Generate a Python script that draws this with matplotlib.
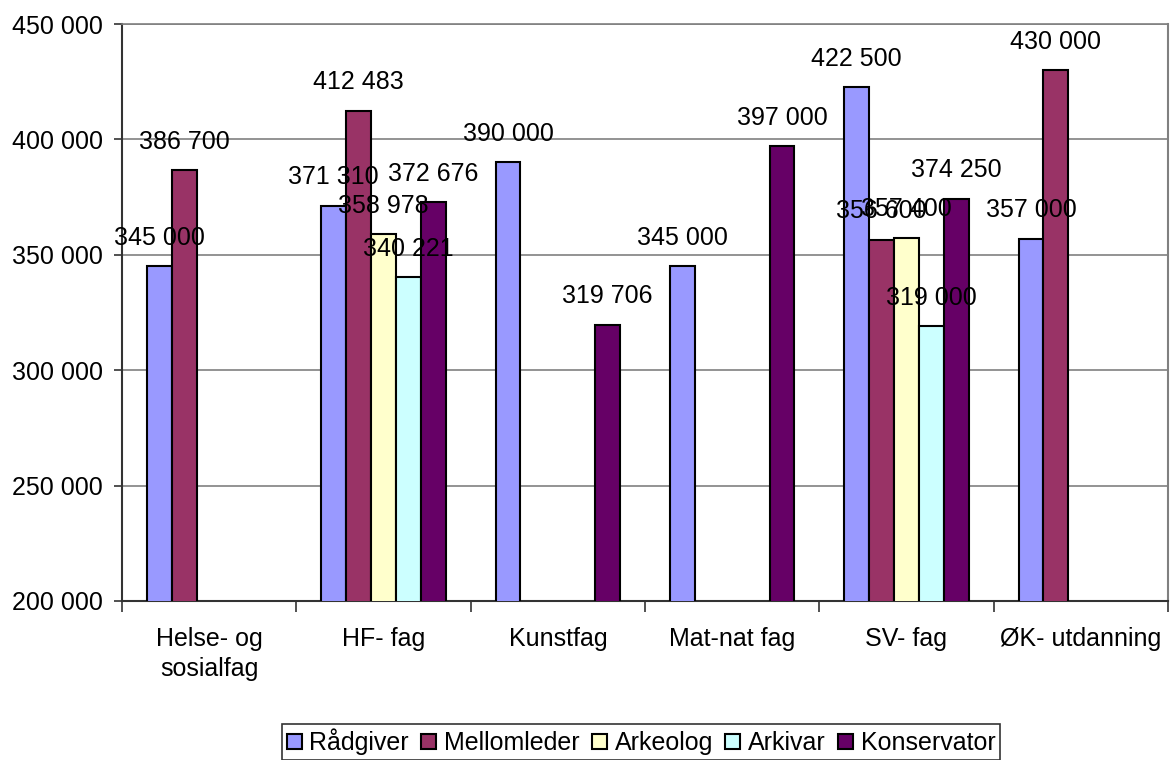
from matplotlib import pyplot as plt
from matplotlib.ticker import FuncFormatter
import numpy as np

plt.rcParams['font.family'] = ['Liberation Sans', 'DejaVu Sans']

# categories and series
categories = ['Helse- og\nsosialfag', 'HF- fag', 'Kunstfag', 'Mat-nat fag', 'SV- fag', 'ØK- utdanning']
series = ['Rådgiver', 'Mellomleder', 'Arkeolog', 'Arkivar', 'Konservator']
nan = np.nan
raadgiver = [345000, 371310, 390000, 345000, 422500, 357000]
mellomleder = [386700, 412483, nan, nan, 356600, 430000]
arkeolog = [nan, 358978, nan, nan, 357400, nan]
arkivar = [nan, 340221, nan, nan, 319000, nan]
konservator = [nan, 372676, 319706, 397000, 374250, nan]
values = [raadgiver, mellomleder, arkeolog, arkivar, konservator]
colors = ['#9999FF', '#993366', '#FFFFCC', '#CCFFFF', '#660066']

fs = 18
fig = plt.figure(figsize=(11.7, 7.6), dpi=100)
ax = fig.add_axes([122/1170, 1 - 601/760, (1168-122)/1170, (601-24)/760])

x = np.arange(len(categories))
w = 1/7
for i, (name, vals, c) in enumerate(zip(series, values, colors)):
    pos = x + (i - 2) * w
    ax.bar(pos, vals, width=w, color=c, edgecolor='black', linewidth=1.5, label=name, zorder=3)
    for px, v in zip(pos, vals):
        if not np.isnan(v):
            ax.annotate(f'{int(v):,}'.replace(',', ' '), (px, v), xytext=(0, 20.5),
                        textcoords='offset points', ha='center', va='center',
                        fontsize=fs, zorder=5)

ax.set_ylim(200000, 450000)
ax.set_xlim(-0.5, len(categories) - 0.5)
ax.set_yticks(np.arange(200000, 450001, 50000))
ax.yaxis.set_major_formatter(FuncFormatter(lambda v, p: f'{int(v):,}'.replace(',', ' ')))
ax.grid(axis='y', color='#808080', linewidth=1.2, zorder=0)
ax.tick_params(axis='y', labelsize=fs, length=6, width=1.2, pad=8, color='#333333', direction='out')

# category boundaries as major ticks, labels at minor ticks
ax.set_xticks(np.arange(-0.5, len(categories), 1.0))
ax.set_xticklabels([])
ax.set_xticks(x, minor=True)
ax.set_xticklabels(categories, minor=True, fontsize=fs, linespacing=1.3)
ax.tick_params(axis='x', which='major', length=8, width=1.2, color='#333333')
ax.tick_params(axis='x', which='minor', length=0, pad=19)

ax.spines['left'].set_color('#333333')
ax.spines['bottom'].set_color('#333333')
ax.spines['left'].set_linewidth(1.5)
ax.spines['bottom'].set_linewidth(1.5)
ax.spines['top'].set_color('#808080')
ax.spines['right'].set_color('#808080')
ax.spines['top'].set_linewidth(1.2)
ax.spines['right'].set_linewidth(1.5)

leg = fig.legend(loc='center', bbox_to_anchor=(0.548, 0.0237), ncol=5, fontsize=fs,
                 frameon=True, fancybox=False, handlelength=0.6, handleheight=0.6,
                 handletextpad=0.3, columnspacing=0.5, borderpad=0.2, borderaxespad=0)
leg.get_frame().set_edgecolor('black')
leg.get_frame().set_linewidth(1.2)

plt.savefig('out.png', dpi=100)
